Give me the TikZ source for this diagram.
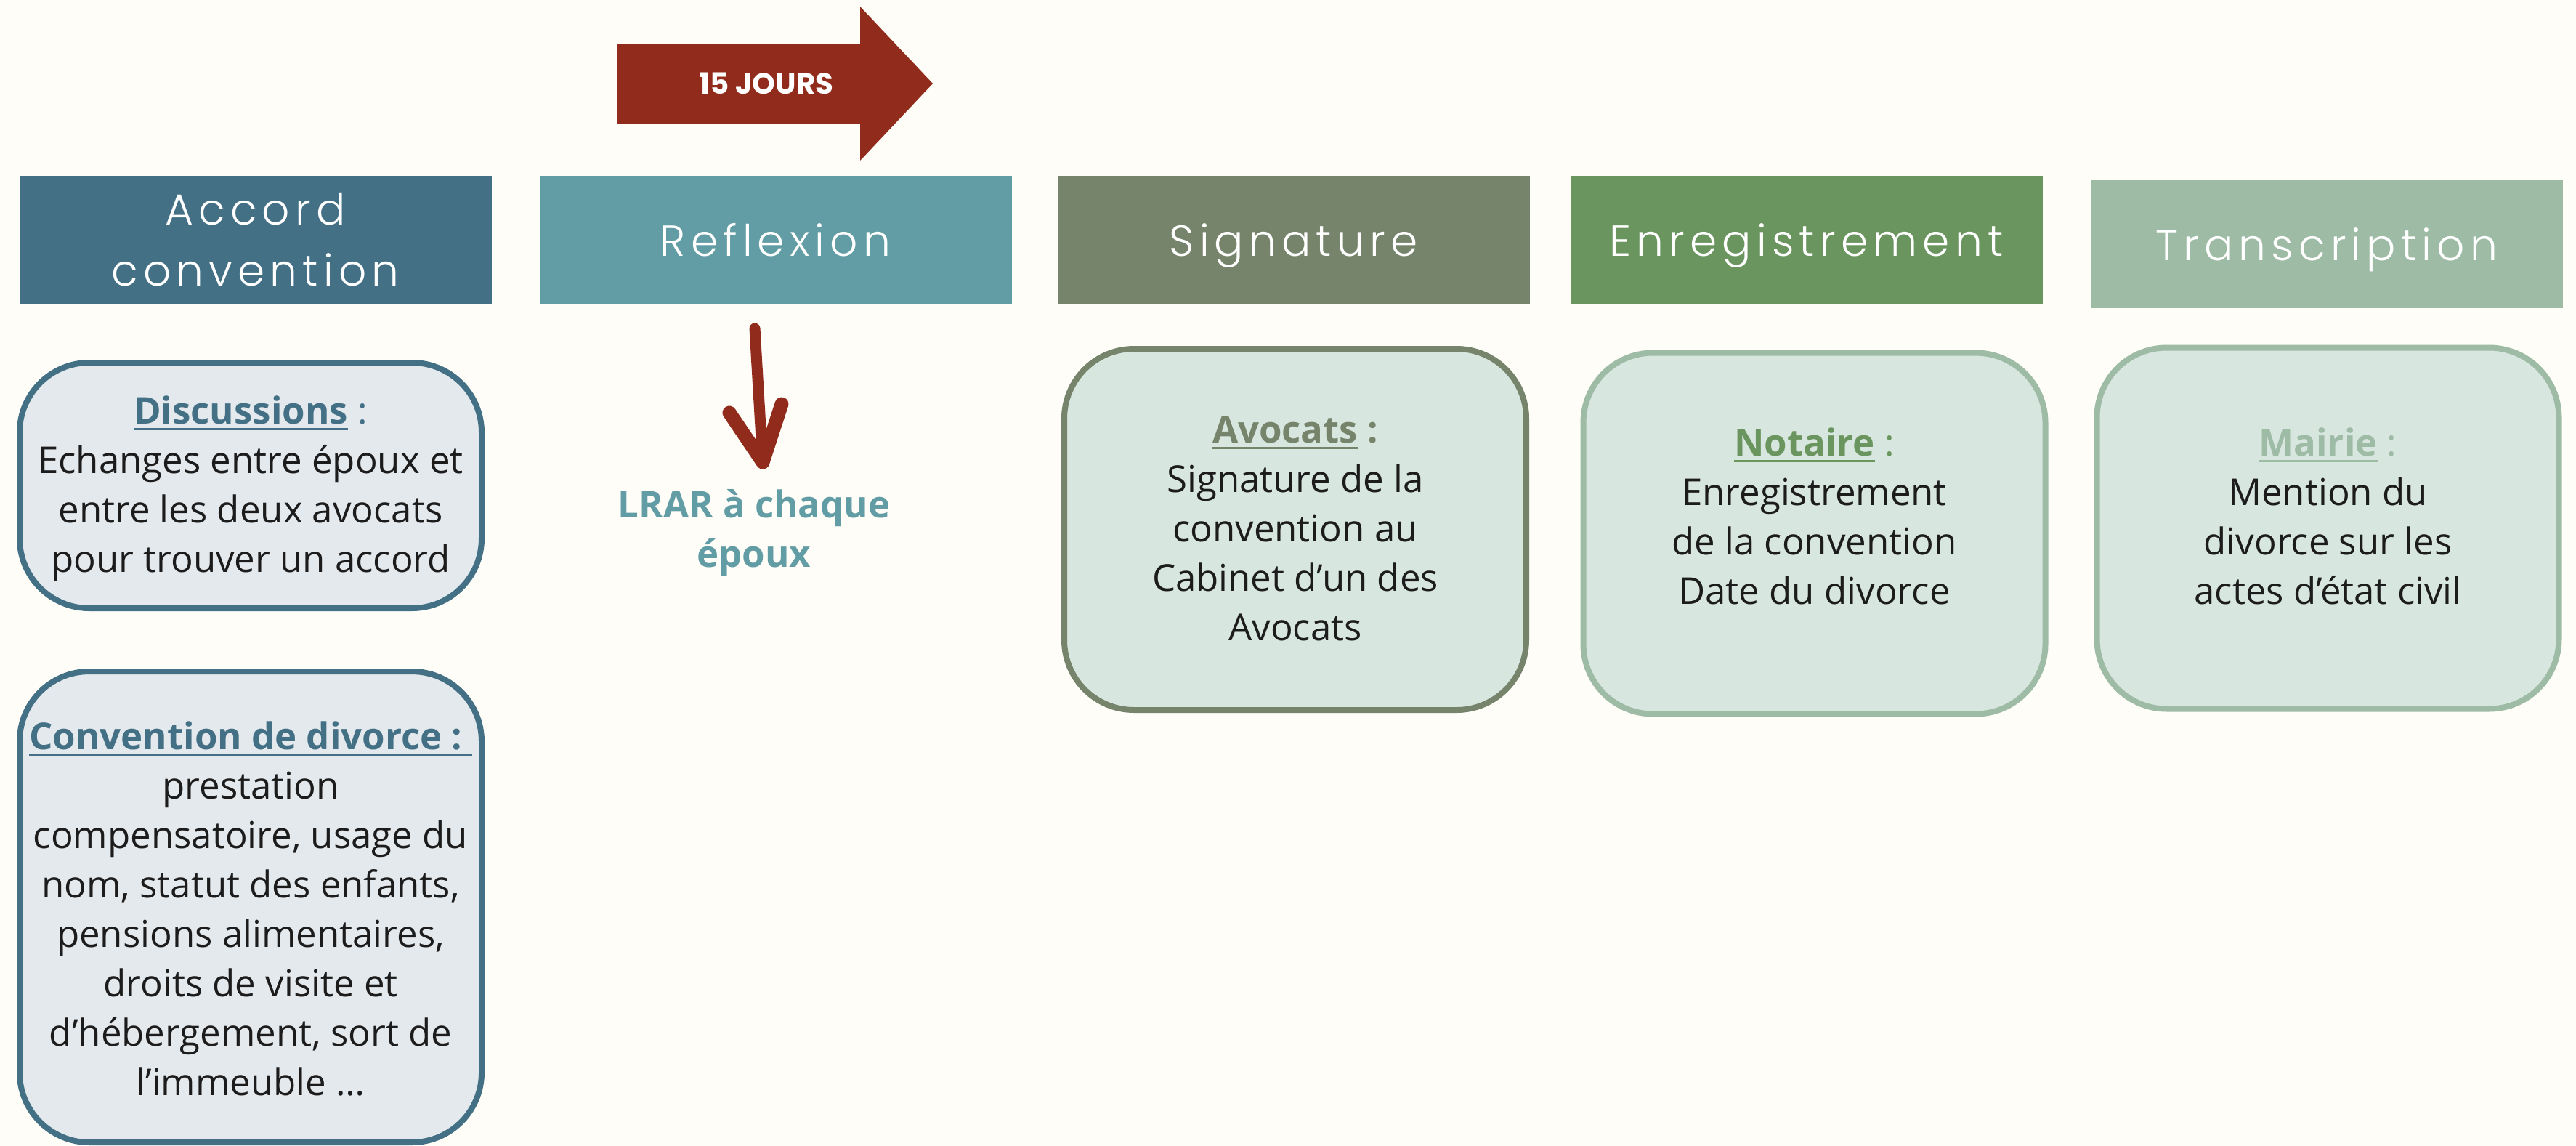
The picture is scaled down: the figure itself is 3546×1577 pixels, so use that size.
\documentclass[tikz,border=0pt]{standalone}
\usepackage{fontspec}
\setmainfont{Open Sans}
\newfontfamily\titrefont{Poppins}[UprightFont = * Light, LetterSpace = 12]
\newfontfamily\poppins{Poppins}
\usetikzlibrary{positioning}
\definecolor{fond}{HTML}{FEFDF8}
\definecolor{cbleu}{HTML}{437085}
\definecolor{cteal}{HTML}{629CA4}
\definecolor{cgris}{HTML}{76846C}
\definecolor{cvert}{HTML}{6B955E}
\definecolor{cpale}{HTML}{9EBBA5}
\definecolor{crouge}{HTML}{912B1B}
\definecolor{fbleu}{HTML}{E4E9ED}
\definecolor{fvert}{HTML}{D8E6E0}
\definecolor{encre}{HTML}{1C1C1C}
\tikzset{etape/.style = {minimum width = 65mm, minimum height = 17.6mm, inner sep = 0, text = white, align = center, font = \titrefont\fontsize{17}{8.4mm}\selectfont}}
\tikzset{ligne/.style = {text depth = 0pt}}
\tikzset{bloc/.style = {rounded corners = 9.6mm, line width = 0.8mm, minimum width = 63.6mm, minimum height = 49.7mm, inner sep = 0}}
\tikzset{corps/.style = {align = center, text = encre, inner sep = 0, font = \fontsize{14.5}{6.8mm}\selectfont}}
\newcommand\souligne[1]{\setbox0\hbox{#1}\rlap{\rule[-0.9mm]{\wd0}{0.35mm}}\box0\relax}

\begin{document}
\begin{tikzpicture}[x = 0.1mm, y = -0.1mm]
      \fill [fond] (0, 0) rectangle (3546, 1577);
      \useasboundingbox (0, 0) rectangle (3546, 1577);

      % 15 jours
      \fill [crouge] (850, 61) -- (1184, 61) -- (1184, 9) -- (1284, 115) -- (1184, 221) -- (1184, 170) -- (850, 170) -- cycle;
      \node [text = white, font = \poppins\bfseries\fontsize{11.5}{14}\selectfont] (jours) at (1055, 115) {15 JOURS};

      % etapes
      \foreach \nom/\x/\y/\coul/\opt/\txt in {accord/351.5/330/cbleu/{}/Accord\\convention, reflexion/1067.5/330/cteal/ligne/Reflexion, signature/1780.5/330/cgris/ligne/Signature, enregistrement/2486.5/330/cvert/ligne/Enregistrement, transcription/3202.5/336/cpale/ligne/Transcription} {
        \node [etape, fill = \coul, \opt] (\nom) at (\x, \y) {\txt};
      }

      \coordinate (flechehaut) at (1039, 452);
      \draw [crouge, line width = 1.5mm, line cap = round] (flechehaut) -- (1049, 622);
      \draw [crouge, line width = 1.9mm, line cap = round, line join = round] (1004, 568) -- (1050, 636) -- (1076, 556);
      \node [corps, text = cteal, font = \bfseries\fontsize{14.5}{6.8mm}\selectfont] (lrar) at (1038, 733) {LRAR à chaque\\ époux};

      % blocs
      \node [bloc, draw = cbleu, fill = fbleu, minimum height = 33.8mm] (discussions) at (345, 668) {};
      \node [corps] (discussionstxt) at (345, 672) {\textcolor{cbleu}{\bfseries\souligne{Discussions}\mdseries{} :}\\ Echanges entre époux et\\ entre les deux avocats\\ pour trouver un accord};

      \node [bloc, draw = cbleu, fill = fbleu, minimum height = 64.8mm] (convention) at (345, 1248) {};
      \node [corps] (conventiontxt) at (345, 1250) {\textcolor{cbleu}{\bfseries\souligne{Convention de divorce :\ }}\\ prestation\\ compensatoire, usage du\\ nom, statut des enfants,\\ pensions alimentaires,\\ droits de visite et\\ d’hébergement, sort de\\ l’immeuble \dots};

      \node [bloc, draw = cgris, fill = fvert] (avocats) at (1783, 728.5) {};
      \node [corps] (avocatstxt) at (1783, 727) {\textcolor{cgris}{\bfseries\souligne{Avocats} :}\\ Signature de la\\ convention au\\ Cabinet d’un des\\ Avocats};

      \node [bloc, draw = cpale, fill = fvert] (notaire) at (2497.5, 734) {};
      \node [corps] (notairetxt) at (2497.5, 710) {\textcolor{cvert}{\bfseries\souligne{Notaire}\mdseries{} :}\\ Enregistrement\\ de la convention\\ Date du divorce};

      \node [bloc, draw = cpale, fill = fvert] (mairie) at (3204.5, 727) {};
      \node [corps] (mairietxt) at (3204.5, 710) {\textcolor{cpale}{\bfseries\souligne{Mairie}\mdseries{} :}\\ Mention du\\ divorce sur les\\ actes d’état civil};
\end{tikzpicture}
\end{document}
